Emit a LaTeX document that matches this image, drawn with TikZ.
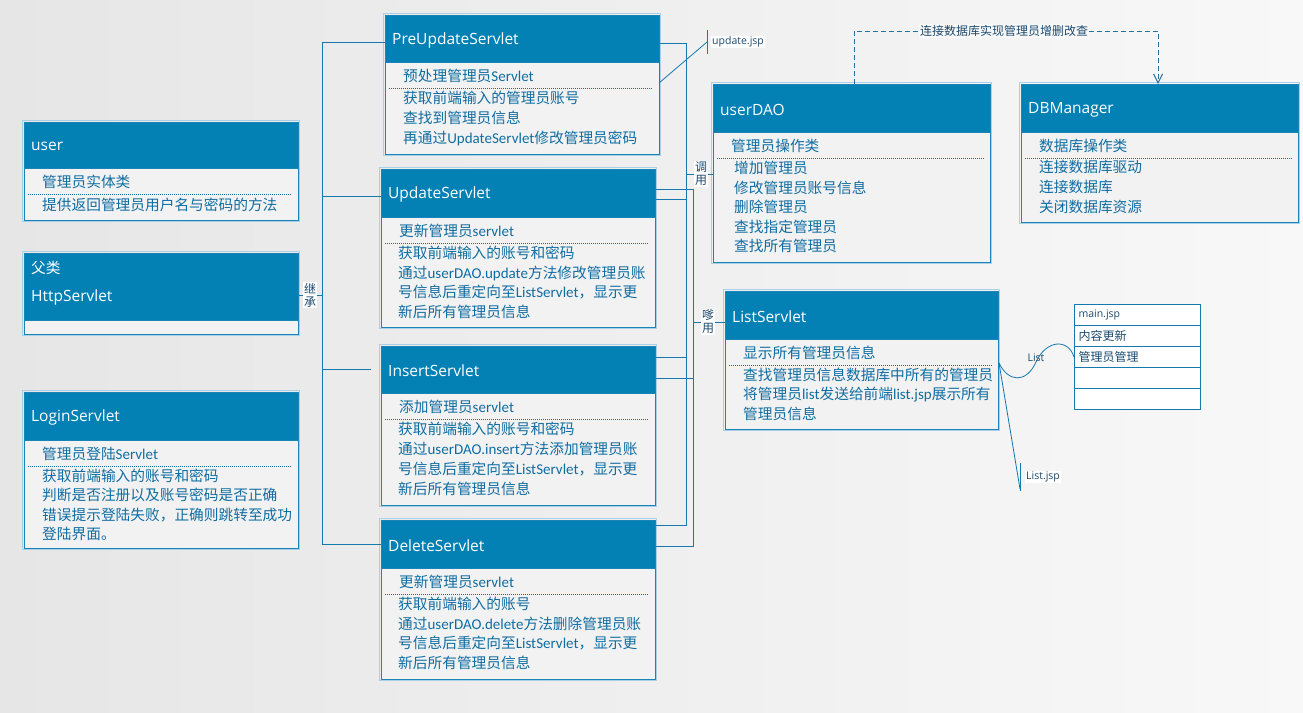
\documentclass[tikz,border=0pt]{standalone}
\usepackage{fontspec}
\setmainfont{Noto Sans CJK SC}
\newfontfamily\ttlfont{Open Sans}
\newfontfamily\latfont{Carlito}
\newcommand\lat[1]{{\latfont\fontsize{15}{18}\selectfont #1}}
\usetikzlibrary{arrows.meta}
\definecolor{hdrblue}{HTML}{0380B4}
\definecolor{bordblue}{HTML}{1A83B8}
\definecolor{glow}{HTML}{A9D0E6}
\definecolor{bodyfill}{HTML}{F2F2F2}
\definecolor{txtblue}{HTML}{106DA2}
\definecolor{lnblue}{HTML}{1578AE}
\definecolor{dashblue}{HTML}{2A6F99}
\definecolor{navy}{HTML}{1C4A6E}
\definecolor{bgA}{HTML}{E6E6E6}
\definecolor{bgB}{HTML}{F8F8F8}
\tikzset{
 hdr/.style={draw=bordblue, fill=hdrblue, line width=1pt, inner sep=0pt, rectangle},
 bdy/.style={draw=bordblue, fill=bodyfill, line width=1pt, inner sep=0pt, rectangle},
 ttl/.style={anchor=west, inner sep=0pt, text=white, font=\ttlfont\fontsize{15.5}{18}\selectfont},
 ln/.style={anchor=west, inner sep=0pt, text=txtblue, font=\fontsize{14.7}{18}\selectfont, text height=12.6pt, text depth=1.8pt},
 sep/.style={draw=txtblue, line width=0.7pt, dash pattern=on 1pt off 1pt},
 conn/.style={draw=lnblue, line width=1pt},
 vlab/.style={fill=white, inner sep=0.6pt, text=navy, font=\fontsize{12}{13}\selectfont, align=center},
 smalllab/.style={anchor=west, fill=white, inner sep=1pt, text=navy, font=\ttlfont\fontsize{10.5}{12}\selectfont},
 trow/.style={draw=lnblue, fill=white, line width=1pt, anchor=north west, minimum height=21pt, text width=118pt, inner xsep=4pt, inner ysep=0pt, align=left, text=navy, font=\fontsize{12}{13}\selectfont},
 dsh/.style={draw=dashblue, line width=1pt, dash pattern=on 5pt off 3pt},
 dlab/.style={fill=bgB, inner sep=1pt, text=navy, font=\fontsize{12}{13}\selectfont},
}
\newcommand\umlclass[8]{%
  \draw[glow, line width=1.2pt] (#2-1.2,#3-1.2) rectangle (#2+#4+1.2,#3+#5+#6+1.2);
  \node[hdr, minimum width=#4pt, minimum height=#5pt, anchor=north west] (#1) at (#2,#3) {};
  \node[bdy, minimum width=#4pt, minimum height=#6pt, anchor=north west] (#1-b) at (#2,#3+#5) {};
  \node[ttl] (#1-t) at (#2+7,#3+#5/2+1.5) {#7};
  \node[ln] (#1-f) at (#2+18,#3+#5+14) {#8};
  \draw[sep] (#2+4,#3+#5+26) -- (#2+#4-6,#3+#5+26);
}
\newcommand\blines[5]{\foreach \ltext [count=\li] in {#5}{\node[ln] (#1-\li) at (#2,#3+#4*\li-#4) {\ltext};}}
\begin{document}
\begin{tikzpicture}[x=1pt,y=-1pt]
\useasboundingbox (0,0) rectangle (1303,712);
\shade[left color=bgA, right color=bgB] (0,0) rectangle (1303,712);

% ---------- left column ----------
\umlclass{usr}{24}{122}{274}{46}{52}{user}{管理员实体类}
\blines{usr-r}{42}{205}{19.7}{提供返回管理员用户名与密码的方法}

\draw[glow, line width=1.2pt] (22.8,251.8) rectangle (299.2,335.2);
\node[hdr, minimum width=274pt, minimum height=67pt, anchor=north west] (http) at (24,253) {};
\node[bdy, minimum width=274pt, minimum height=14pt, anchor=north west] (http-b) at (24,320) {};
\node[anchor=west, inner sep=0pt, text=white, font=\fontsize{14.7}{16}\selectfont] (http-p) at (31,268) {父类};
\node[ttl] (http-t) at (31,297) {HttpServlet};

\umlclass{login}{24}{392}{274}{48}{108}{LoginServlet}{管理员登陆\lat{Servlet}}
\blines{login-r}{42}{476}{19.4}{获取前端输入的账号和密码,判断是否注册以及账号密码是否正确,错误提示登陆失败，正确则跳转至成功,登陆界面。}

% ---------- servlet column ----------
\umlclass{pre}{385}{15}{274}{47}{92}{PreUpdateServlet}{预处理管理员\lat{Servlet}}
\blines{pre-r}{403}{98}{20}{获取前端输入的管理员账号,查找到管理员信息,再通过\lat{UpdateServlet}修改管理员密码}

\umlclass{upd}{381}{169}{274}{48}{110}{UpdateServlet}{更新管理员\lat{servlet}}
\blines{upd-r}{398}{253}{19.7}{获取前端输入的账号和密码,通过\lat{userDAO.update}方法修改管理员账,号信息后重定向至\lat{ListServlet}，显示更,新后所有管理员信息}

\umlclass{ins}{381}{346}{274}{47}{112}{InsertServlet}{添加管理员\lat{servlet}}
\blines{ins-r}{398}{429}{20}{获取前端输入的账号和密码,通过\lat{userDAO.insert}方法添加管理员账,号信息后重定向至\lat{ListServlet}，显示更,新后所有管理员信息}

\umlclass{del}{381}{520}{274}{48}{111}{DeleteServlet}{更新管理员\lat{servlet}}
\blines{del-r}{398}{604}{19.7}{获取前端输入的账号,通过\lat{userDAO.delete}方法删除管理员账,号信息后重定向至\lat{ListServlet}，显示更,新后所有管理员信息}

% ---------- right column ----------
\umlclass{dao}{713}{84}{277}{48}{130}{userDAO}{管理员操作类}
\blines{dao-r}{734}{168}{19.6}{增加管理员,修改管理员账号信息,删除管理员,查找指定管理员,查找所有管理员}

\umlclass{db}{1021}{84}{277}{48}{90}{DBManager}{数据库操作类}
\blines{db-r}{1039}{167}{20}{连接数据库驱动,连接数据库,关闭数据库资源}

\umlclass{lst}{725}{291}{273}{48}{90}{ListServlet}{显示所有管理员信息}
\blines{lst-r}{743}{375}{19.3}{查找管理员信息数据库中所有的管理员,将管理员\lat{list}发送给前端\lat{list.jsp}展示所有,管理员信息}

% ---------- main.jsp table ----------
\node[trow, font=\ttlfont\fontsize{10.5}{12}\selectfont] (m1) at (1074,304) {main.jsp};
\node[trow] (m2) at (1074,325) {内容更新};
\node[trow] (m3) at (1074,346) {管理员管理};
\node[trow] (m4) at (1074,367) {};
\node[trow] (m5) at (1074,388) {};

% ---------- inheritance tree ----------
\coordinate (iT) at (322,42);
\coordinate (iU) at (322,196);
\coordinate (iH) at (322,295);
\coordinate (iI) at (322,369);
\coordinate (iIe) at (371,369);
\coordinate (iD) at (322,544);
\draw[conn] (iT -| pre.west) -- (iT) -- (iD) -- (iD -| del.west);
\draw[conn] (iU) -- (iU -| upd.west);
\draw[conn] (iI) -- (iIe);
\draw[conn] (iH -| http.east) -- (iH);
\node[vlab] (jc) at (310,295) {继\\承};

% ---------- call buses ----------
\coordinate (aT) at (686,43);
\coordinate (aU) at (686,199);
\coordinate (aI) at (686,357);
\coordinate (aD) at (686,525);
\coordinate (aC) at (686,174);
\coordinate (bU) at (693,189);
\coordinate (bI) at (693,378);
\coordinate (bD) at (693,546);
\coordinate (bL) at (693,322);
\draw[conn] (aT -| pre.east) -- (aT) -- (aD) -- (aD -| del.east);
\draw[conn] (aU -| upd.east) -- (aU);
\draw[conn] (aI -| ins.east) -- (aI);
\draw[conn] (bU -| upd.east) -- (bU) -- (bD) -- (bD -| del.east);
\draw[conn] (bI -| ins.east) -- (bI);
\draw[conn] (aC) -- (aC -| dao.west);
\draw[conn] (bL) -- (bL -| lst.west);
\node[vlab] (call1) at (701,174) {调\\用};
\node[vlab] (call2) at (708,322) {嗲\\用};

% ---------- update.jsp ----------
\coordinate (preR) at (659,83);
\coordinate (uj) at (707,42);
\coordinate (ujT) at (707,30);
\coordinate (ujB) at (707,54);
\draw[conn, line width=0.8pt] (preR) -- (uj);
\draw[conn] (ujT) -- (ujB);
\node[smalllab] (ujl) at (711,42) {update.jsp};

% ---------- List / List.jsp ----------
\coordinate (lR) at (999,363);
\coordinate (lj) at (1020,489);
\coordinate (ljT) at (1020,463);
\coordinate (ljB) at (1020,491);
\draw[conn, line width=0.8pt] (lR) .. controls (1008,382) and (1026,384) .. (1036,362)
   .. controls (1046,340) and (1068,338) .. (m3.west);
\node[inner sep=1pt, text=navy, font=\ttlfont\fontsize{10.5}{12}\selectfont] (listlab) at (1036,358) {List};
\draw[conn, line width=0.8pt] (lR) -- (lj);
\draw[conn] (ljT) -- (ljB);
\node[smalllab] (ljl) at (1025,477) {List.jsp};

% ---------- dashed dependency ----------
\coordinate (dA) at (854,31);
\coordinate (dB) at (1158,31);
\draw[dsh, -{Straight Barb[length=9pt,width=9pt]}] (dao.north -| dA) -- (dA) -- (dB) -- (db.north -| dB);
\node[dlab] (dl) at (1004,31) {连接数据库实现管理员增删改查};
\end{tikzpicture}
\end{document}
